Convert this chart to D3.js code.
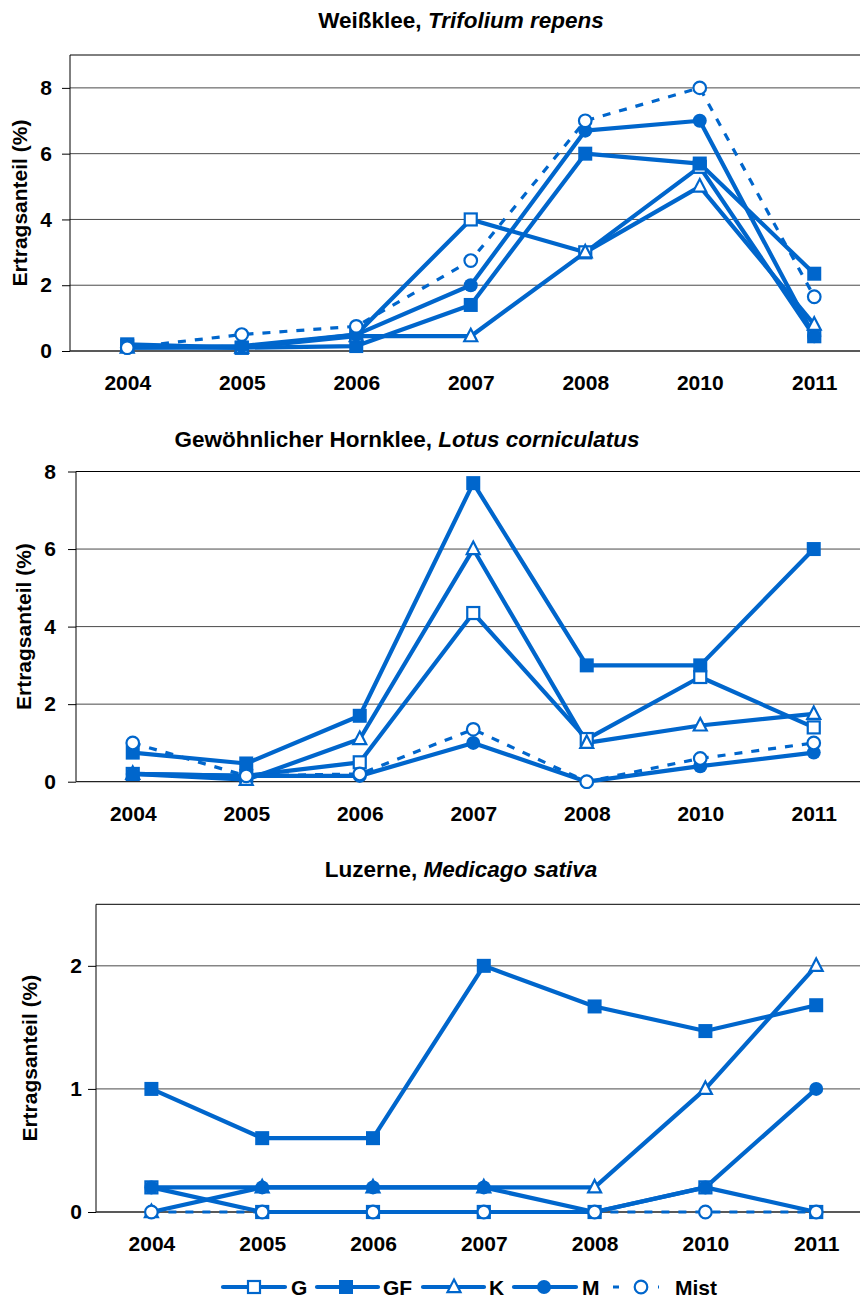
<!DOCTYPE html>
<html>
<head>
<meta charset="utf-8">
<script src="https://cdn.jsdelivr.net/npm/d3@7"></script>
<style>
  html, body { margin: 0; padding: 0; background: #fff; }
  svg { display: block; font-family: "Liberation Sans", Arial, Helvetica, sans-serif; }
</style>
</head>
<body>
<svg id="chart" width="860" height="1299"></svg>
<script>
// Jahre der Erhebung (2009 fehlt)
const years = ["2004", "2005", "2006", "2007", "2008", "2010", "2011"];
const seriesNames = ["G", "GF", "K", "M", "Mist"];

// Weißklee, Ertragsanteil (%)
const weissG    = [0.2, 0.1, 0.5, 4.0, 3.0, 5.6, 0.45];
const weissGF   = [0.15, 0.1, 0.15, 1.4, 6.0, 5.7, 2.35];
const weissK    = [0.1, 0.1, 0.45, 0.45, 3.0, 5.0, 0.8];
const weissM    = [0.1, 0.15, 0.5, 2.0, 6.7, 7.0, 0.45];
const weissMist = [0.1, 0.5, 0.75, 2.75, 7.0, 8.0, 1.65];

// Gewöhnlicher Hornklee, Ertragsanteil (%)
const hornG    = [0.2, 0.15, 0.5, 4.35, 1.1, 2.7, 1.4];
const hornGF   = [0.75, 0.47, 1.7, 7.7, 3.0, 3.0, 6.0];
const hornK    = [0.2, 0.05, 1.1, 6.0, 1.0, 1.45, 1.75];
const hornM    = [0.2, 0.15, 0.15, 1.0, 0.0, 0.4, 0.75];
const hornMist = [1.0, 0.15, 0.2, 1.35, 0.0, 0.6, 1.0];

// Luzerne, Ertragsanteil (%)
const luzG    = [0.2, 0, 0, 0, 0, 0.2, 0];
const luzGF   = [1.0, 0.6, 0.6, 2.0, 1.67, 1.47, 1.68];
const luzK    = [0, 0.2, 0.2, 0.2, 0.2, 1.0, 2.0];
const luzM    = [0.2, 0.2, 0.2, 0.2, 0, 0.2, 1.0];
const luzMist = [0, 0, 0, 0, 0, 0, 0];

// Teilstriche der y-Achsen
const weissTicks = [0, 2, 4, 6, 8];
const hornTicks  = [0, 2, 4, 6, 8];
const luzTicks   = [0, 1, 2];

const BLUE = "#0066CC";
const FONT_SIZE = 21;
const TITLE_SIZE = 22.5;

const svg = d3.select("#chart");

// Marker-Stil je Variante
const markerStyle = {
  G:    { shape: "square",   filled: false },
  GF:   { shape: "square",   filled: true },
  K:    { shape: "triangle", filled: false },
  M:    { shape: "circle",   filled: true },
  Mist: { shape: "circle",   filled: false }
};

function drawMarker(g, name, x, y) {
  const st = markerStyle[name];
  const fill = st.filled ? BLUE : "#fff";
  const sw = st.filled ? 0 : 2.2;
  if (st.shape === "square") {
    const s = st.filled ? 14 : 12;
    g.append("rect")
      .attr("x", x - s / 2).attr("y", y - s / 2)
      .attr("width", s).attr("height", s)
      .attr("fill", fill).attr("stroke", BLUE).attr("stroke-width", sw);
  } else if (st.shape === "circle") {
    const r = st.filled ? 7 : 6.3;
    g.append("circle")
      .attr("cx", x).attr("cy", y).attr("r", r)
      .attr("fill", fill).attr("stroke", BLUE).attr("stroke-width", sw);
  } else {
    const w = 13, h = 12;
    g.append("path")
      .attr("d", `M${x},${y - h * 0.62} L${x + w / 2},${y + h * 0.42} L${x - w / 2},${y + h * 0.42} Z`)
      .attr("fill", fill).attr("stroke", BLUE).attr("stroke-width", sw)
      .attr("stroke-linejoin", "miter");
  }
}

function drawPanel(cfg) {
  const g = svg.append("g");

  const x = d3.scalePoint().domain(years).range([cfg.left, cfg.right]).padding(0.5);
  const y = d3.scaleLinear().domain([0, cfg.yMax]).range([cfg.bottom, cfg.top]);

  // Gitterlinien
  g.append("g").selectAll("line")
    .data(cfg.ticks.filter(t => t > 0))
    .join("line")
    .attr("x1", cfg.left).attr("x2", cfg.right)
    .attr("y1", d => y(d)).attr("y2", d => y(d))
    .attr("stroke", "#4a4a4a").attr("stroke-width", 1);

  // Rahmen oben
  g.append("line")
    .attr("x1", cfg.left).attr("x2", cfg.right)
    .attr("y1", cfg.top).attr("y2", cfg.top)
    .attr("stroke", "#000").attr("stroke-width", 1);

  // y-Achse
  const yAxis = d3.axisLeft(y).tickValues(cfg.ticks).tickSize(8).tickPadding(cfg.tickPad).tickFormat(d3.format("d"));
  const ya = g.append("g").attr("transform", `translate(${cfg.left},0)`).call(yAxis);
  ya.select(".domain").attr("stroke", "#000").attr("stroke-width", 1)
    .attr("d", `M0,${cfg.top}V${cfg.bottom}`);
  ya.selectAll(".tick line").attr("stroke", "#000");
  ya.selectAll(".tick text")
    .attr("font-size", FONT_SIZE).attr("font-weight", "bold").attr("fill", "#000")
    .attr("font-family", "Liberation Sans, Arial, sans-serif");

  // x-Achse (ohne Teilstriche)
  const xAxis = d3.axisBottom(x).tickSize(0).tickPadding(24);
  const xa = g.append("g").attr("transform", `translate(0,${cfg.bottom})`).call(xAxis);
  xa.select(".domain").attr("stroke", "#222").attr("stroke-width", 1.3)
    .attr("d", `M${cfg.left},0H${cfg.right}`);
  xa.selectAll(".tick text")
    .attr("font-size", FONT_SIZE).attr("font-weight", "bold").attr("fill", "#000")
    .attr("font-family", "Liberation Sans, Arial, sans-serif");

  // Achsentitel
  g.append("text")
    .attr("transform", `translate(${cfg.yTitleX},${(cfg.top + cfg.bottom) / 2}) rotate(-90)`)
    .attr("text-anchor", "middle")
    .attr("font-size", FONT_SIZE).attr("font-weight", "bold")
    .text("Ertragsanteil (%)");

  // Diagrammtitel
  const t = g.append("text")
    .attr("x", cfg.titleX).attr("y", cfg.titleY)
    .attr("text-anchor", "middle")
    .attr("font-size", TITLE_SIZE).attr("font-weight", "bold");
  t.append("tspan").text(cfg.title[0]);
  t.append("tspan").attr("font-style", "italic").text(cfg.title[1]);

  // Linien
  const line = d3.line().x((d, i) => x(years[i])).y(d => y(d));
  seriesNames.forEach(name => {
    const vals = cfg.series[name];
    g.append("path")
      .datum(vals)
      .attr("d", line)
      .attr("fill", "none")
      .attr("stroke", BLUE)
      .attr("stroke-width", name === "Mist" ? 3.2 : 4.2)
      .attr("stroke-dasharray", name === "Mist" ? "8,9" : null)
      .attr("stroke-linejoin", "round");
  });
  // Marker
  seriesNames.forEach(name => {
    const mg = g.append("g");
    cfg.series[name].forEach((v, i) => drawMarker(mg, name, x(years[i]), y(v)));
  });
}

drawPanel({
  left: 70, right: 871.5, top: 55, bottom: 351, yMax: 9, ticks: weissTicks, tickPad: 10,
  yTitleX: 27, titleX: 461, titleY: 28,
  title: ["Weißklee, ", "Trifolium repens"],
  series: { G: weissG, GF: weissGF, K: weissK, M: weissM, Mist: weissMist }
});

drawPanel({
  left: 76, right: 870.5, top: 471.5, bottom: 781.7, yMax: 8, ticks: hornTicks, tickPad: 12,
  yTitleX: 31, titleX: 407, titleY: 447,
  title: ["Gewöhnlicher Hornklee, ", "Lotus corniculatus"],
  series: { G: hornG, GF: hornGF, K: hornK, M: hornM, Mist: hornMist }
});

drawPanel({
  left: 96, right: 871.6, top: 904.3, bottom: 1212, yMax: 2.5, ticks: luzTicks, tickPad: 6,
  yTitleX: 37, titleX: 461, titleY: 877,
  title: ["Luzerne, ", "Medicago sativa"],
  series: { G: luzG, GF: luzGF, K: luzK, M: luzM, Mist: luzMist }
});

// Legende
const legendY = 1287;
const legendItems = [
  { name: "G",    x1: 223, x2: 285, mx: 254, tx: 291 },
  { name: "GF",   x1: 317, x2: 378, mx: 346, tx: 383 },
  { name: "K",    x1: 423, x2: 484, mx: 454, tx: 489 },
  { name: "M",    x1: 514, x2: 576, mx: 544, tx: 582 },
  { name: "Mist", x1: 609, x2: 659, mx: 641, tx: 675 }
];
const lg = svg.append("g");
legendItems.forEach(it => {
  const isMist = it.name === "Mist";
  lg.append("line")
    .attr("x1", isMist ? 613 : it.x1).attr("x2", it.x2)
    .attr("y1", legendY).attr("y2", legendY)
    .attr("stroke", BLUE)
    .attr("stroke-width", isMist ? 3.2 : 4.2)
    .attr("stroke-linecap", isMist ? "butt" : "round")
    .attr("stroke-dasharray", isMist ? "6,17,8,14,6" : null);
  drawMarker(lg, it.name, it.mx, legendY);
  lg.append("text")
    .attr("x", it.tx).attr("y", legendY + 7.5)
    .attr("font-size", FONT_SIZE).attr("font-weight", "bold")
    .text(it.name);
});
</script>
</body>
</html>
